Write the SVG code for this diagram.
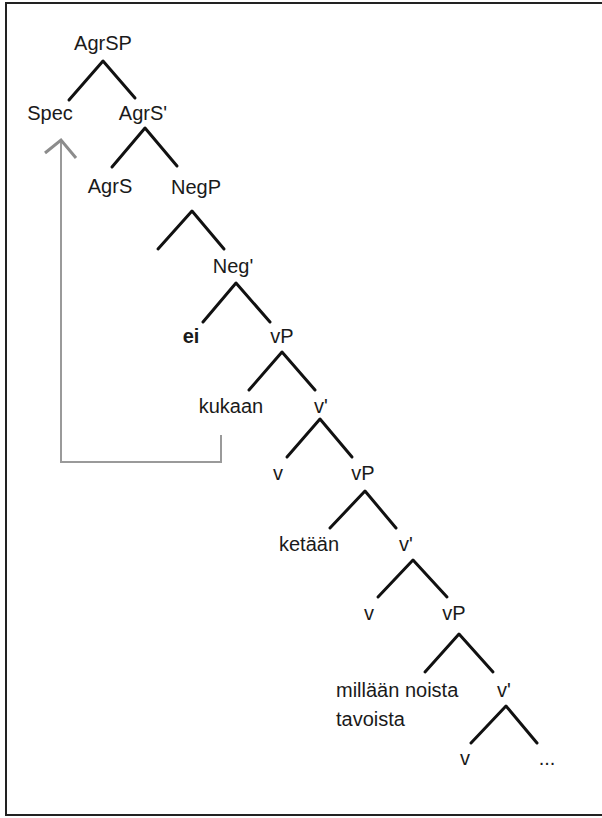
<svg xmlns="http://www.w3.org/2000/svg" width="602" height="818" viewBox="0 0 602 818">
<style>
text{font-family:"Liberation Sans",Arial,sans-serif;font-size:20px;fill:#1a1a1a;text-anchor:middle}
.l{text-anchor:start}
.b{font-weight:bold}
.e{stroke:#111;stroke-width:3;fill:none;stroke-linecap:round;stroke-linejoin:round}
.mv{stroke:#9a9a9a;stroke-width:2;fill:none}
.ah{stroke:#8c8c8c;stroke-width:3;fill:none;stroke-linejoin:miter}
</style>
<rect x="0" y="0" width="602" height="818" fill="#fff"/>
<rect x="6" y="3" width="610" height="812" fill="none" stroke="#222" stroke-width="2"/>
<g id="connectors">
<polyline class="e" points="69,100 103,61 135,98"/>
<polyline class="e" points="112,167 145,128 177,166"/>
<polyline class="e" points="158,249 192,211 224,249"/>
<polyline class="e" points="203,322 236,283 270,322"/>
<polyline class="e" points="249,390 282,352 315,390"/>
<polyline class="e" points="287,457 320,419 352,457"/>
<polyline class="e" points="330,528 365,491 396,528"/>
<polyline class="e" points="378,597 413,560 447,597"/>
<polyline class="e" points="425,672 459,634 493,672"/>
<polyline class="e" points="471,743 506,706 537,743"/>
<g id="movement">
<polyline class="mv" points="221,435 221,462 61,462 61,141"/>
<polyline class="ah" points="45,153 61,140 76,158"/>
</g>
</g>
<g id="n-AgrSP"><text x="103" y="50">AgrSP</text></g>
<g id="n-Spec"><text x="50" y="120">Spec</text></g>
<g id="n-AgrS1"><text x="143" y="120">AgrS'</text></g>
<g id="n-AgrS"><text x="110" y="193">AgrS</text></g>
<g id="n-NegP"><text x="196" y="194">NegP</text></g>
<g id="n-Neg1"><text x="233" y="273">Neg'</text></g>
<g id="n-ei"><text class="b" x="191" y="343">ei</text></g>
<g id="n-vP1"><text x="282" y="343">vP</text></g>
<g id="n-kukaan"><text x="231" y="413">kukaan</text></g>
<g id="n-v1bar"><text x="321" y="413">v'</text></g>
<g id="n-v1"><text x="278" y="480">v</text></g>
<g id="n-vP2"><text x="363" y="480">vP</text></g>
<g id="n-ketaan"><text x="309" y="551">ketään</text></g>
<g id="n-v2bar"><text x="406" y="551">v'</text></g>
<g id="n-v2"><text x="369" y="620">v</text></g>
<g id="n-vP3"><text x="454" y="620">vP</text></g>
<g id="n-millaan"><text class="l" x="336" y="697">millään noista</text><text class="l" x="336" y="726">tavoista</text></g>
<g id="n-v3bar"><text x="504" y="697">v'</text></g>
<g id="n-v3"><text x="465" y="765">v</text></g>
<g id="n-dots"><text x="547" y="765">...</text></g>
</svg>
